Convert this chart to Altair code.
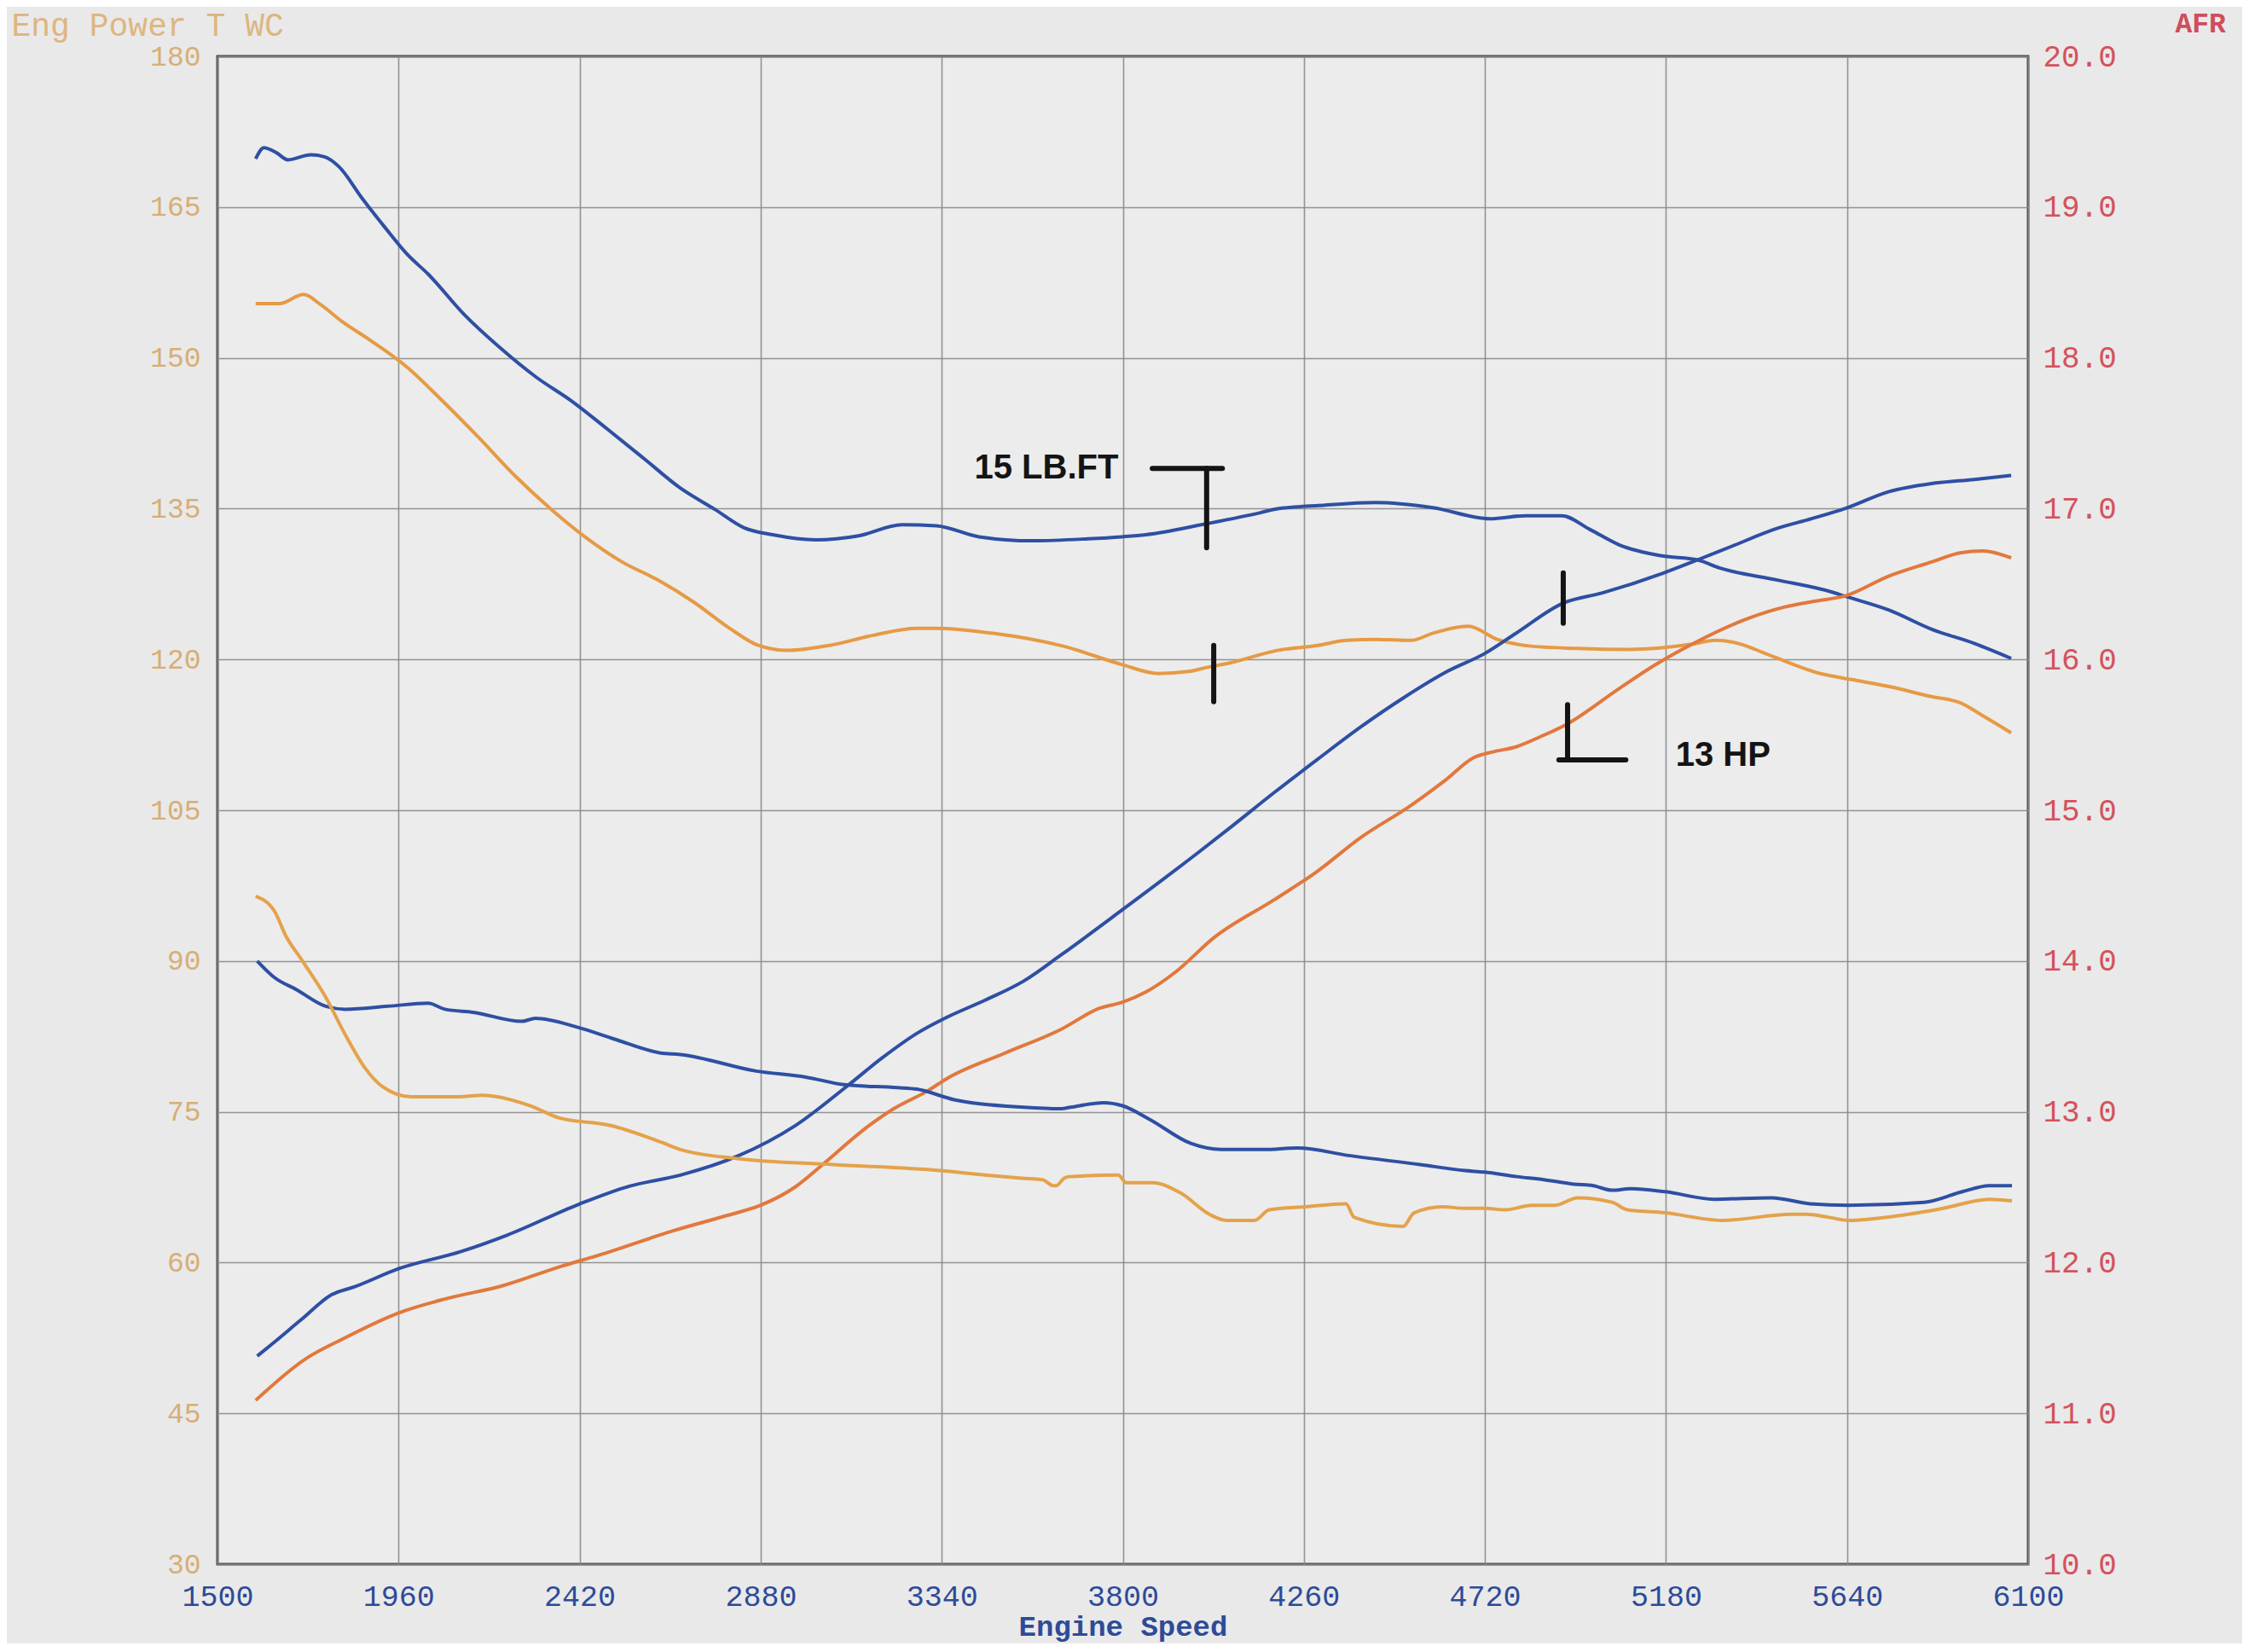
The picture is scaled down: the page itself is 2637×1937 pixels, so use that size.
import altair as alt
import pandas as pd

# ---------------- data read from the dyno sheet ----------------
X_TICKS = [1500, 1960, 2420, 2880, 3340, 3800, 4260, 4720, 5180, 5640, 6100]
LEFT_TICKS = [30, 45, 60, 75, 90, 105, 120, 135, 150, 165, 180]
RIGHT_TICKS = [10, 11, 12, 13, 14, 15, 16, 17, 18, 19, 20]

# torque, blue run
TQ_B_RPM = [1597, 1618, 1650, 1679, 1737, 1772, 1809, 1867, 1925, 1982, 2036, 2127, 2218, 2309,
            2400, 2491, 2583, 2674, 2765, 2838, 2911, 3020, 3129, 3239, 3326, 3435, 3572, 3712,
            3797, 3858, 4013, 4150, 4193, 4296, 4441, 4587, 4733, 4824, 4915, 4988, 5061, 5170,
            5260, 5316, 5463, 5602, 5634, 5747, 5855, 5963, 6057]
TQ_B_VAL = [169.8, 170.9, 170.4, 169.7, 170.2, 170.0, 169.0, 165.9, 163.0, 160.3, 158.3, 154.3, 151.0, 148.1,
            145.7, 142.9, 140.0, 137.1, 134.9, 133.1, 132.4, 131.9, 132.3, 133.4, 133.3, 132.2, 131.8, 132.0,
            132.2, 132.4, 133.5, 134.6, 135.0, 135.3, 135.6, 135.1, 134.0, 134.3, 134.3, 132.9, 131.4, 130.3,
            129.9, 129.1, 127.9, 126.7, 126.3, 124.9, 123.0, 121.6, 120.1]

# torque, orange run
TQ_O_RPM = [1597, 1657, 1719, 1762, 1817, 1890, 1981, 2072, 2163, 2255, 2346, 2437, 2528, 2619,
            2710, 2801, 2874, 2947, 3056, 3166, 3275, 3326, 3471, 3651, 3797, 3890, 3967, 4013,
            4077, 4193, 4296, 4368, 4441, 4533, 4587, 4678, 4751, 4842, 4952, 5087, 5243, 5305,
            5353, 5451, 5572, 5652, 5747, 5855, 5927, 5985, 6057]
TQ_O_VAL = [155.4, 155.4, 156.3, 155.3, 153.6, 151.7, 149.1, 145.7, 142.1, 138.3, 135.0, 132.1, 129.7, 127.9,
            125.7, 123.1, 121.4, 120.9, 121.4, 122.4, 123.1, 123.1, 122.6, 121.3, 119.5, 118.6, 118.8, 119.2,
            119.7, 120.9, 121.4, 121.9, 122.0, 121.9, 122.6, 123.3, 122.0, 121.3, 121.1, 121.0, 121.5, 121.9,
            121.7, 120.3, 118.6, 118.0, 117.3, 116.3, 115.7, 114.4, 112.7]

# power, blue run
HP_B_RPM = [1601, 1645, 1712, 1790, 1849, 1961, 2119, 2234, 2418, 2546, 2676, 2822, 2967, 3101,
            3190, 3277, 3353, 3450, 3548, 3643, 3799, 3992, 4077, 4186, 4296, 4405, 4514, 4624,
            4720, 4799, 4919, 5017, 5174, 5260, 5350, 5460, 5550, 5634, 5747, 5855, 5963, 6057]
HP_B_VAL = [50.7, 52.1, 54.3, 56.8, 57.6, 59.4, 61.1, 62.7, 65.8, 67.6, 68.7, 70.6, 73.6, 77.6,
            80.4, 82.8, 84.4, 86.1, 88.0, 90.6, 95.1, 100.8, 103.4, 106.8, 110.1, 113.3, 116.2, 118.8,
            120.6, 122.6, 125.6, 126.6, 128.6, 129.9, 131.3, 133.0, 134.0, 135.0, 136.7, 137.5, 137.9, 138.3]

# power, orange run
HP_O_RPM = [1597, 1723, 1818, 1961, 2080, 2225, 2371, 2466, 2661, 2796, 2880, 2967, 3045, 3141,
            3218, 3305, 3353, 3498, 3643, 3741, 3799, 3858, 3934, 4031, 4185, 4290, 4405, 4533,
            4620, 4690, 4740, 4799, 4860, 4930, 5061, 5150, 5255, 5390, 5480, 5560, 5634, 5747,
            5855, 5927, 5985, 6057]
HP_O_VAL = [46.3, 50.4, 52.4, 55.0, 56.4, 57.7, 59.6, 60.7, 63.2, 64.7, 65.7, 67.5, 70.0, 73.2,
            75.3, 77.1, 78.3, 80.8, 83.2, 85.3, 85.9, 86.9, 88.9, 92.3, 96.1, 98.8, 102.3, 105.5,
            108.0, 110.2, 110.8, 111.3, 112.3, 113.6, 117.1, 119.4, 121.7, 124.1, 125.2, 125.8, 126.3, 128.3,
            129.7, 130.6, 130.8, 130.1]

# air/fuel ratio, blue run
AFR_B_RPM = [1601, 1645, 1701, 1775, 1825, 1933, 2035, 2078, 2150, 2273, 2308, 2416, 2511, 2626,
             2676, 2869, 2995, 3092, 3227, 3277, 3372, 3548, 3643, 3667, 3752, 3799, 3868, 3973,
             4050, 4157, 4244, 4374, 4555, 4670, 4718, 4801, 4870, 4946, 4995, 5043, 5091, 5178,
             5303, 5448, 5546, 5643, 5836, 5933, 6001, 6059]
AFR_B_VAL = [14.0, 13.89, 13.81, 13.70, 13.68, 13.70, 13.72, 13.68, 13.66, 13.60, 13.62, 13.56, 13.48, 13.39,
             13.38, 13.27, 13.23, 13.18, 13.16, 13.15, 13.08, 13.03, 13.02, 13.03, 13.06, 13.04, 12.95, 12.79,
             12.75, 12.75, 12.76, 12.71, 12.65, 12.61, 12.60, 12.57, 12.55, 12.52, 12.51, 12.48, 12.49, 12.47,
             12.42, 12.43, 12.39, 12.38, 12.40, 12.47, 12.51, 12.51]

# air/fuel ratio, orange run
AFR_O_RPM = [1597, 1645, 1673, 1716, 1775, 1825, 1875, 1918, 1992, 2113, 2172, 2295, 2367, 2497,
             2626, 2676, 2822, 3064, 3336, 3450, 3543, 3596, 3623, 3631, 3651, 3664, 3788, 3809,
             3875, 3948, 4020, 4063, 4135, 4172, 4265, 4367, 4388, 4512, 4540, 4612, 4670, 4718,
             4772, 4839, 4898, 4956, 5043, 5082, 5178, 5323, 5498, 5537, 5594, 5643, 5769, 5884,
             6001, 6059]
AFR_O_VAL = [14.43, 14.33, 14.17, 14.0, 13.76, 13.51, 13.29, 13.17, 13.10, 13.10, 13.11, 13.04, 12.96, 12.91,
             12.80, 12.75, 12.69, 12.65, 12.61, 12.58, 12.56, 12.55, 12.51, 12.51, 12.56, 12.57, 12.58, 12.53,
             12.53, 12.46, 12.32, 12.28, 12.28, 12.35, 12.37, 12.39, 12.30, 12.24, 12.33, 12.37, 12.36, 12.36,
             12.35, 12.38, 12.38, 12.43, 12.40, 12.35, 12.33, 12.28, 12.32, 12.32, 12.30, 12.28, 12.31, 12.36,
             12.42, 12.41]

# hand-drawn annotation strokes (rpm / left-axis units)
MARK_X1 = [3875, 4013, 4031, 4919, 4930, 4908]
MARK_X2 = [4053, 4013, 4031, 4919, 4930, 5078]
MARK_Y1 = [139.0, 139.0, 121.4, 128.6, 115.5, 110.0]
MARK_Y2 = [139.0, 131.1, 115.8, 123.6, 110.0, 110.0]
NOTE_TEXT = ["15 LB.FT", "13 HP"]
NOTE_RPM = [3606, 5325]
NOTE_VAL = [139.0, 110.4]

SERIES = ["TQ blue", "TQ orange", "HP blue", "HP orange", "AFR blue", "AFR orange"]
COLORS = ["#2e4fa3", "#e69a45", "#2e4fa3", "#e2783c", "#2e4fa3", "#e4a24a"]

# ---------------- tables ----------------
def frame(name, rpm, val, col):
    return pd.DataFrame({"rpm": rpm, col: val, "series": name})

power = pd.concat([
    frame("TQ blue", TQ_B_RPM, TQ_B_VAL, "val"),
    frame("TQ orange", TQ_O_RPM, TQ_O_VAL, "val"),
    frame("HP blue", HP_B_RPM, HP_B_VAL, "val"),
    frame("HP orange", HP_O_RPM, HP_O_VAL, "val"),
], ignore_index=True)
afr = pd.concat([
    frame("AFR blue", AFR_B_RPM, AFR_B_VAL, "afr"),
    frame("AFR orange", AFR_O_RPM, AFR_O_VAL, "afr"),
], ignore_index=True)
marks = pd.DataFrame({"rpm": MARK_X1, "rpm2": MARK_X2, "val": MARK_Y1, "val2": MARK_Y2})
notes = pd.DataFrame({"rpm": NOTE_RPM, "val": NOTE_VAL, "text": NOTE_TEXT})

MONO = "Liberation Mono"
xscale = alt.Scale(domain=[1500, 6100], nice=False, zero=False)
yscale = alt.Scale(domain=[30, 180], nice=False, zero=False)
color = alt.Color("series:N", scale=alt.Scale(domain=SERIES, range=COLORS), legend=None)

x_axis = alt.Axis(values=X_TICKS, format="d", title="Engine Speed", labelFont=MONO,
                  labelFontSize=35, labelColor="#2d4b98", labelPadding=20, labelFlush=False,
                  labelOverlap=False, titleFont=MONO, titleFontSize=34, titleFontWeight="bold",
                  titleColor="#2d4b98", titleBaseline="alphabetic", titleY=83,
                  grid=True, ticks=False, domain=False)
left_axis = alt.Axis(values=LEFT_TICKS, format="d", title="Eng Power T WC", labelFont=MONO,
                     labelFontSize=33, labelColor="#d7ae76", labelPadding=20, labelOverlap=False,
                     titleFont=MONO, titleFontSize=38, titleFontWeight="normal", titleColor="#ddb680",
                     titleAngle=0, titleAlign="left", titleBaseline="alphabetic", titleX=-242, titleY=-25,
                     grid=True, ticks=False, domain=False)
right_axis = alt.Axis(values=RIGHT_TICKS, format=".1f", orient="right", title="AFR", labelFont=MONO,
                      labelFontSize=36, labelColor="#d4525c", labelPadding=17, labelOverlap=False,
                      titleFont=MONO, titleFontSize=33, titleFontWeight="bold", titleColor="#cf4e5c",
                      titleAngle=0, titleAlign="left", titleBaseline="alphabetic", titleX=172, titleY=-29,
                      grid=False, ticks=False, domain=False)

X = alt.X("rpm:Q", scale=xscale, axis=x_axis)
Y = alt.Y("val:Q", scale=yscale, axis=left_axis)

lines = alt.Chart(power).mark_line(strokeWidth=4, interpolate="monotone").encode(
    x=X, y=Y, color=color, detail="series:N",
)
strokes = alt.Chart(marks).mark_rule(color="#141414", strokeWidth=6, strokeCap="round").encode(
    x=X, x2="rpm2:Q", y=Y, y2="val2:Q",
)
texts = alt.Chart(notes).mark_text(font="Liberation Sans", fontWeight="bold", fontSize=40,
                                   color="#141414").encode(
    x=X, y=Y, text="text:N",
)
power_layer = alt.layer(lines, strokes, texts)

afr_lines = alt.Chart(afr).mark_line(strokeWidth=4, interpolate="monotone").encode(
    x=X,
    y=alt.Y("afr:Q", scale=alt.Scale(domain=[10, 20], nice=False, zero=False), axis=right_axis),
    color=color,
    detail="series:N",
)

chart = alt.layer(power_layer, afr_lines).resolve_scale(y="independent").properties(
    width=2123,
    height=1768,
    autosize="none",
    padding={"left": 247, "top": 58, "right": 251, "bottom": 93},
    background="#e9e9e9",
).configure_view(
    stroke="#4d4d4d", strokeWidth=3, fill="#ececec"
).configure_axis(
    gridColor="#8a8a8a", gridWidth=1.6, gridOpacity=0.9
)

chart.save("out.html", embed_options={"renderer": "svg", "actions": False})
